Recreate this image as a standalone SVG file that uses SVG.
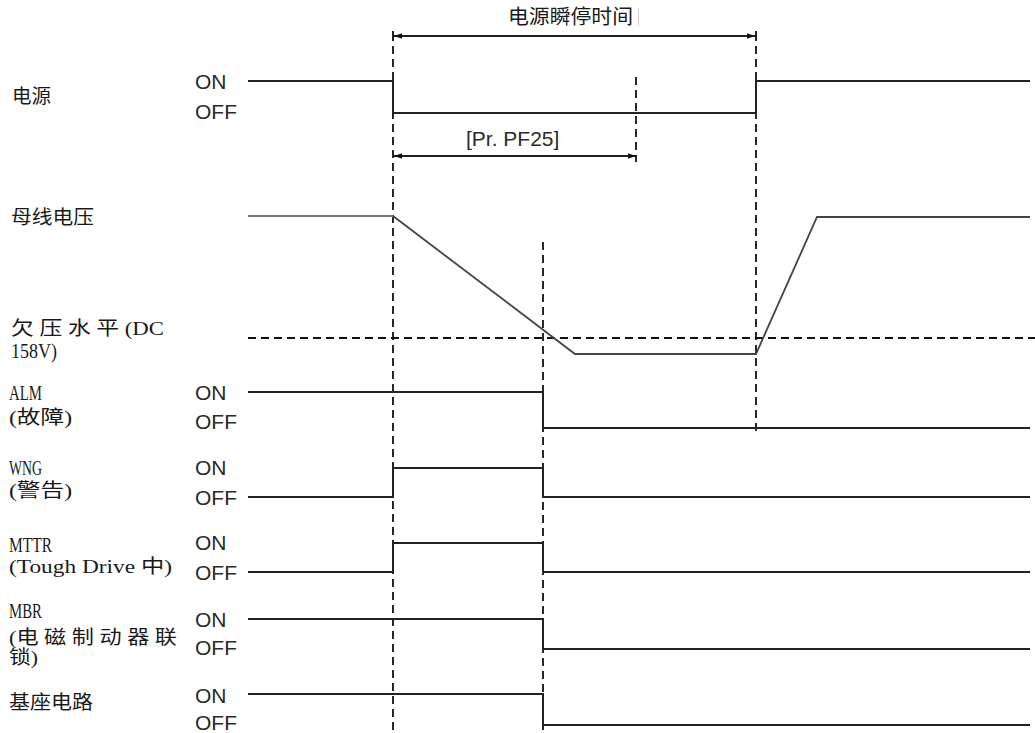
<svg xmlns="http://www.w3.org/2000/svg" width="1035" height="733" viewBox="0 0 1035 733">
<style>
.sig{fill:none;stroke:#222;stroke-width:2;stroke-linejoin:miter}
.bus{fill:none;stroke:#444;stroke-width:1.8}
.dash{fill:none;stroke:#111;stroke-width:1.8;stroke-dasharray:8 5}
.arr{fill:none;stroke:#222;stroke-width:2}
.oo{font-family:"Liberation Sans",Arial,sans-serif;font-size:21px;fill:#2a2a2a}
.lb{font-family:"Liberation Serif","Noto Sans CJK SC",serif;font-size:19px;fill:#1a1a1a}
.la{font-family:"Liberation Serif","Noto Sans CJK SC",serif;font-size:22px;fill:#1a1a1a}
.tt{font-family:"Noto Sans CJK SC","Liberation Sans",sans-serif;font-size:20px;fill:#1a1a1a}
</style>
<defs>
<marker id="ah" viewBox="0 0 10 10" refX="10" refY="5" markerWidth="9" markerHeight="8" markerUnits="userSpaceOnUse" orient="auto-start-reverse">
<path d="M0,1.5 L10,5 L0,8.5 z" fill="#111"/>
</marker>
</defs>
<rect width="1035" height="733" fill="#fff"/>

<g id="connectors">
<line class="dash" x1="393" y1="33" x2="393" y2="733"/>
<line class="dash" x1="756" y1="33" x2="756" y2="433"/>
<line class="dash" x1="636" y1="77" x2="636" y2="162"/>
<line class="dash" x1="543" y1="242" x2="543" y2="730"/>
<line class="dash" x1="248" y1="338" x2="1035" y2="338"/>
<line class="arr" x1="394" y1="36" x2="755" y2="36" marker-start="url(#ah)" marker-end="url(#ah)"/>
<line class="arr" x1="393" y1="31" x2="393" y2="41"/>
<line class="arr" x1="756" y1="31" x2="756" y2="41"/>
<line class="arr" x1="394" y1="156" x2="636" y2="156" marker-start="url(#ah)" marker-end="url(#ah)"/>
<line x1="638.5" y1="9" x2="638.5" y2="26" stroke="#cfcfcf" stroke-width="1"/>
</g>

<g id="title">
<text class="tt" x="508" y="24" textLength="125" lengthAdjust="spacingAndGlyphs">电源瞬停时间</text>
<text class="oo" x="466" y="146">[Pr. PF25]</text>
</g>

<g id="power">
<text class="lb" x="12" y="103" textLength="39" lengthAdjust="spacingAndGlyphs">电源</text>
<text class="oo" x="195" y="89">ON</text>
<text class="oo" x="195" y="119">OFF</text>
<polyline class="sig" points="248,81 393,81 393,113 756,113 756,81 1030,81"/>
</g>

<g id="bus-voltage">
<text class="lb" x="11" y="224" textLength="83" lengthAdjust="spacingAndGlyphs">母线电压</text>
<polyline class="bus" points="393,216 575,354 756,354 817,217 1030,217"/>
<line x1="248" y1="216" x2="393" y2="216" stroke="#777" stroke-width="1.8"/>
</g>

<g id="undervoltage">
<text class="lb" x="11" y="335" textLength="153" lengthAdjust="spacingAndGlyphs">欠 压 水 平 (DC</text>
<text class="la" x="11" y="358" textLength="46" lengthAdjust="spacingAndGlyphs">158V)</text>
</g>

<g id="alm">
<text class="la" x="9" y="400" textLength="33" lengthAdjust="spacingAndGlyphs">ALM</text>
<text class="lb" x="9" y="424" textLength="63" lengthAdjust="spacingAndGlyphs">(故障)</text>
<text class="oo" x="195" y="400">ON</text>
<text class="oo" x="195" y="429">OFF</text>
<polyline class="sig" points="248,392 543,392 543,428 1030,428"/>
</g>

<g id="wng">
<text class="la" x="9" y="475" textLength="33" lengthAdjust="spacingAndGlyphs">WNG</text>
<text class="lb" x="9" y="497" textLength="63" lengthAdjust="spacingAndGlyphs">(警告)</text>
<text class="oo" x="195" y="475">ON</text>
<text class="oo" x="195" y="505">OFF</text>
<polyline class="sig" points="248,497 393,497 393,468 543,468 543,497 1030,497"/>
</g>

<g id="mttr">
<text class="la" x="9" y="552" textLength="43" lengthAdjust="spacingAndGlyphs">MTTR</text>
<text class="lb" x="9" y="573" font-size="21" textLength="163" lengthAdjust="spacingAndGlyphs">(Tough Drive 中)</text>
<text class="oo" x="195" y="550">ON</text>
<text class="oo" x="195" y="580">OFF</text>
<polyline class="sig" points="248,572 393,572 393,543 543,543 543,572 1030,572"/>
</g>

<g id="mbr">
<text class="la" x="9" y="618" textLength="33" lengthAdjust="spacingAndGlyphs">MBR</text>
<text class="lb" x="9" y="644" textLength="168" lengthAdjust="spacingAndGlyphs">(电 磁 制 动 器 联</text>
<text class="lb" x="9" y="664" textLength="29" lengthAdjust="spacingAndGlyphs">锁)</text>
<text class="oo" x="195" y="627">ON</text>
<text class="oo" x="195" y="655">OFF</text>
<polyline class="sig" points="248,619 543,619 543,649 1030,649"/>
</g>

<g id="base-circuit">
<text class="lb" x="9" y="709" textLength="84" lengthAdjust="spacingAndGlyphs">基座电路</text>
<text class="oo" x="195" y="703">ON</text>
<text class="oo" x="195" y="730">OFF</text>
<polyline class="sig" points="248,694 543,694 543,725 1030,725"/>
</g>
</svg>
